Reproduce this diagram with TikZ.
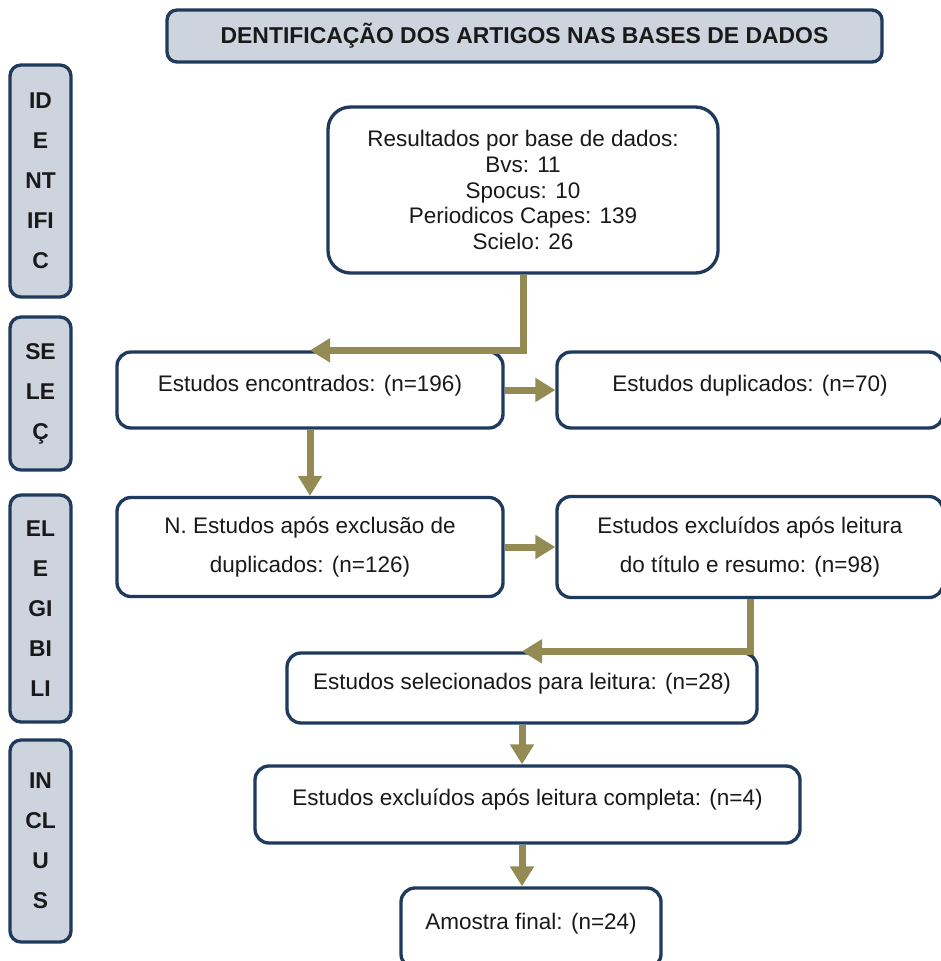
\documentclass[tikz,border=0pt]{standalone}
\usepackage{fontspec}
\setmainfont{Liberation Sans}
\usetikzlibrary{arrows.meta,positioning,calc}
\definecolor{frame}{HTML}{1F3A5C}
\definecolor{phase}{HTML}{CDD4DE}
\definecolor{link}{HTML}{948A54}
\tikzset{box/.style={draw=frame,line width=1.9pt,rounded corners=0.28cm,fill=white,align=center,inner sep=0pt,text=black!90,font=\fontsize{12.8}{14.6}\selectfont},one/.style={box,text depth=8pt},two/.style={box,font=\fontsize{12.8}{22.7}\selectfont},head/.style={box,fill=phase,rounded corners=0.2cm,font=\bfseries\fontsize{13.05}{14.5}\selectfont},side/.style={draw=frame,line width=1.9pt,rounded corners=0.22cm,fill=phase,align=center,minimum width=1.22cm,text=black!90,font=\bfseries\fontsize{13}{22.7}\selectfont},arrow/.style={-{Triangle[width=0.46cm,length=0.4cm]},line width=0.14cm,draw=link}}
\begin{document}
\begin{tikzpicture}
\useasboundingbox (0,0) rectangle (18.82,-19.22);
\clip (0,0) rectangle (18.82,-19.22);
\node[head,minimum width=14.3cm,minimum height=1.04cm] (t) at (10.49,-0.72) {DENTIFICAÇÃO DOS ARTIGOS NAS BASES DE DADOS};
\node[side,minimum height=4.64cm] (p1) at (0.81,-3.62) {ID\\E\\NT\\IFI\\C};
\node[side,minimum height=3.06cm] (p2) at (0.81,-7.87) {SE\\LE\\Ç};
\node[side,minimum height=4.54cm] (p3) at (0.81,-12.17) {EL\\E\\GI\\BI\\LI};
\node[side,minimum height=4.04cm] (p4) at (0.81,-16.82) {IN\\CL\\U\\S};
\node[box,rounded corners=0.45cm,minimum width=7.8cm,minimum height=3.32cm] (r) at (10.46,-3.80) {Resultados por base de dados:\\Bvs: 11\\Spocus: 10\\Periodicos Capes: 139\\Scielo: 26};
\node[one,minimum width=7.72cm,minimum height=1.52cm] (e) at (6.20,-7.80) {Estudos encontrados: (n=196)};
\node[one,minimum width=7.72cm,minimum height=1.52cm] (d) at (15.00,-7.80) {Estudos duplicados: (n=70)};
\node[two,minimum width=7.72cm,minimum height=1.98cm] (n) at (6.20,-10.94) {N. Estudos após exclusão de\\duplicados: (n=126)};
\node[two,minimum width=7.72cm,minimum height=2.02cm] (x) at (15.00,-10.94) {Estudos excluídos após leitura\\do título e resumo: (n=98)};
\node[one,minimum width=9.4cm,minimum height=1.4cm] (s) at (10.44,-13.76) {Estudos selecionados para leitura: (n=28)};
\node[one,minimum width=10.9cm,minimum height=1.54cm] (c) at (10.55,-16.09) {Estudos excluídos após leitura completa: (n=4)};
\node[one,minimum width=5.2cm,minimum height=1.6cm] (f) at (10.62,-18.56) {Amostra final: (n=24)};
\draw[arrow](r.south)|-(e.north);\draw[arrow](e)--(d);\draw[arrow](e)--(n);\draw[arrow](n)--(x);\draw[arrow](x.south)|-(s.north);\draw[arrow](s.south)--(s.south|-c.north);\draw[arrow](s.south|-c.south)--(s.south|-f.north);
\end{tikzpicture}
\end{document}
